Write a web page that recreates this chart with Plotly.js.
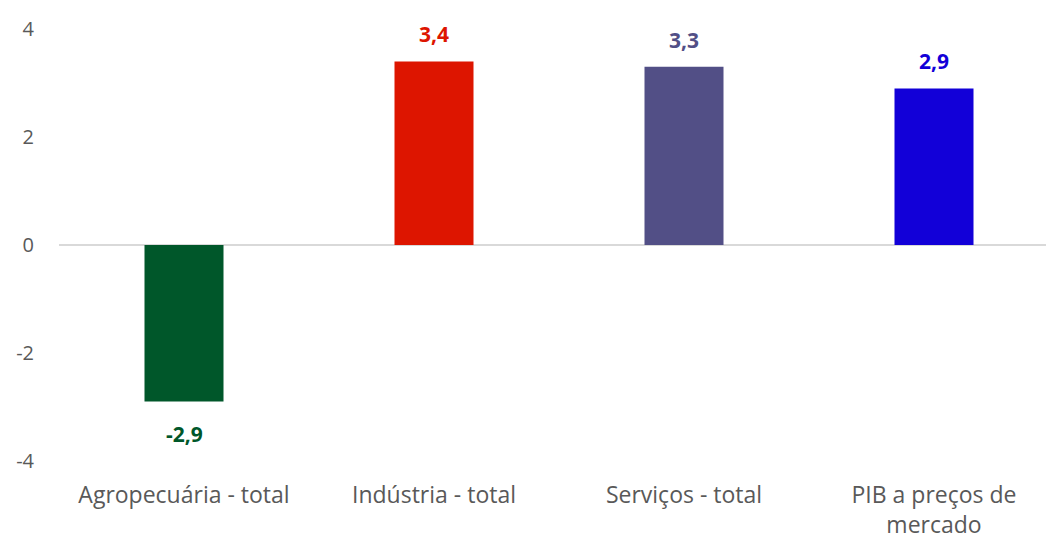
<!DOCTYPE html>
<html><head><meta charset="utf-8">
<script src="https://cdn.plot.ly/plotly-3.0.1.min.js"></script>
<style>html,body{margin:0;padding:0;background:#fff}#chart{width:1046px;height:540px}</style>
</head><body><div id="chart"></div>
<script>
const categories = ["Agropecuária - total", "Indústria - total", "Serviços - total", "PIB a preços de<br>mercado"];
const values = [-2.9, 3.4, 3.3, 2.9];
const labels = ["-2,9", "3,4", "3,3", "2,9"];
const colors = ["#00572A", "#DD1500", "#524F86", "#1200D8"];
const yTicks = [-4, -2, 0, 2, 4];

const annotations = categories.map((c, i) => ({
  x: c, y: values[i], xref: "x", yref: "y",
  text: "<b>" + labels[i] + "</b>",
  showarrow: false,
  yanchor: values[i] >= 0 ? "bottom" : "top",
  yshift: values[i] >= 0 ? 11 : -16,
  font: {family: "Open Sans", size: 21, color: colors[i]}
}));

Plotly.newPlot("chart", [{
  type: "bar",
  x: categories,
  y: values,
  marker: {color: colors},
  width: 0.316,
  hoverinfo: "none"
}], {
  width: 1046, height: 540,
  margin: {l: 59, r: 0, t: 29, b: 79},
  paper_bgcolor: "#fff", plot_bgcolor: "#fff",
  font: {family: "Open Sans", size: 20, color: "#595959"},
  showlegend: false,
  annotations: annotations,
  xaxis: {range: [-0.5, 3.448], showgrid: false, showline: false, zeroline: false, ticks: "", ticklabelstandoff: 18, tickfont: {size: 23, color: "#595959"}},
  yaxis: {range: [-4, 4], tickvals: yTicks, ticktext: yTicks.map(String), showgrid: false, zeroline: true, zerolinecolor: "#D9D9D9", zerolinewidth: 1.3, showline: false, ticks: "", ticklabelstandoff: 24, tickfont: {size: 20, color: "#595959"}}
}, {displayModeBar: false, staticPlot: true});
</script></body></html>
